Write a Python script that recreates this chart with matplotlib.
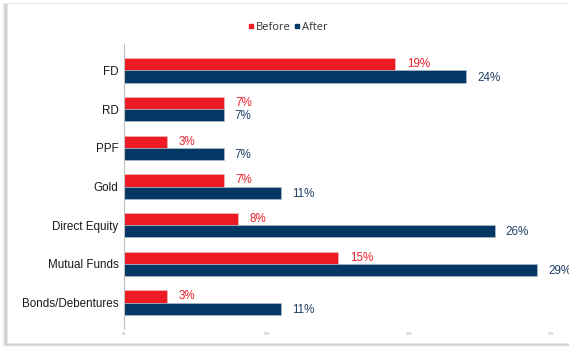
import matplotlib.pyplot as plt
import matplotlib.patches as patches
import numpy as np

categories = ['FD', 'RD', 'PPF', 'Gold', 'Direct Equity', 'Mutual Funds', 'Bonds/Debentures']
before = [19, 7, 3, 7, 8, 15, 3]
after = [24, 7, 7, 11, 26, 29, 11]
xticks = [0, 10, 20, 30]
xtick_labels = ['0%', '10%', '20%', '30%']

red = '#ED1C24'
navy = '#053764'
red_text = '#E8202A'
navy_text = '#1F3F66'

W, H = 569, 352
fig = plt.figure(figsize=(W / 100, H / 100), dpi=100)
fig.patch.set_facecolor('white')

# card with soft shadow on the left and bottom
for k, a in enumerate([0.05, 0.08, 0.12, 0.18]):
    off = 4 - k
    fig.patches.append(patches.Rectangle(((6 - off) / W, (352 - 346 + k * 0.5) / H - 0.002),
                                         1.2, (340 + off) / H,
                                         transform=fig.transFigure, facecolor='#808080',
                                         alpha=a, edgecolor='none', zorder=0))
fig.patches.append(patches.Rectangle((7 / W, (352 - 343) / H), 1.2, 340 / H,
                                     transform=fig.transFigure, facecolor='white',
                                     edgecolor='#e6e6e6', linewidth=0.5, zorder=1))

ax = fig.add_axes([124 / W, 1 - 329 / H, (551.5 - 124) / W, (329 - 44) / H])
ax.set_facecolor('none')
ax.set_zorder(2)

y = np.arange(len(categories))
h = 0.318
ax.barh(y - h / 2, before, height=h, color=red, edgecolor='#f4c0c2', linewidth=0.4, label='Before')
ax.barh(y + h / 2, after, height=h, color=navy, edgecolor='#b8c4d2', linewidth=0.4, label='After')

px = 30 / (551.5 - 124)  # data units per pixel
for yi, b, a in zip(y, before, after):
    ax.text(b + 12 * px, yi - h / 2, f'{b}%', color=red_text, fontsize=8.4,
            family='Liberation Sans', va='center', ha='left')
    ax.text(a + 11 * px, yi + h / 2 + 0.03, f'{a}%', color=navy_text, fontsize=8.4,
            family='Liberation Sans', va='center', ha='left', clip_on=False)

ax.set_xlim(0, 30)
ax.set_ylim(6.685, -0.685)
ax.set_yticks(y)
ax.set_yticklabels(categories, family='Liberation Sans', fontsize=8.4, color='#1a1a1a')
ax.set_xticks(xticks)
ax.set_xticklabels(xtick_labels, fontsize=2.2, color='#999999')
ax.tick_params(axis='both', length=0)
ax.tick_params(axis='y', pad=4)
ax.tick_params(axis='x', pad=2)
for s in ['top', 'right', 'bottom']:
    ax.spines[s].set_visible(False)
ax.spines['left'].set_color('#bfbfbf')
ax.spines['left'].set_linewidth(0.8)

leg = fig.legend(handles=[plt.Line2D([], [], marker='s', ls='', color=red, markersize=2.2),
                          plt.Line2D([], [], marker='s', ls='', color=navy, markersize=2.2)],
                 labels=['Before', 'After'], loc='center', bbox_to_anchor=(288 / W, 1 - 27 / H),
                 ncol=2, frameon=False, prop={'family': 'Open Sans', 'size': 8},
                 handletextpad=0.25, columnspacing=0.4, handlelength=0.4)
for t in leg.get_texts():
    t.set_color('#333333')

fig.savefig('out.png', dpi=100, facecolor='white')
